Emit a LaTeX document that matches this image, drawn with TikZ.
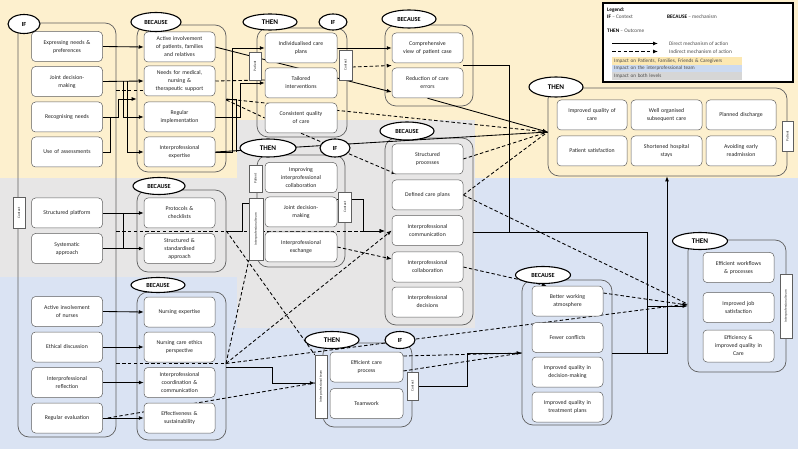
\documentclass[tikz,border=0pt]{standalone}
\usepackage{fontspec}
\setmainfont{Carlito}
\usepackage{graphicx}
\usetikzlibrary{shapes.geometric,arrows.meta,calc}
\definecolor{bgY}{RGB}{253,240,206}
\definecolor{bgG}{RGB}{231,230,230}
\definecolor{bgB}{RGB}{218,227,243}
\definecolor{legY}{RGB}{252,232,178}
\definecolor{legB}{RGB}{204,218,240}
\definecolor{legG}{RGB}{214,214,214}
\definecolor{frm}{RGB}{95,95,95}
\definecolor{txt}{RGB}{35,35,35}
\pgfdeclarelayer{bglayer}
\pgfdeclarelayer{framelayer}
\pgfdeclarelayer{linelayer}
\pgfsetlayers{bglayer,framelayer,linelayer,main}
\tikzset{
  cbox/.style={draw=frm, line width=0.5pt, fill=white, rounded corners=4pt, align=center,
    font=\fontsize{5.8}{8}\selectfont, text=txt, minimum width=71pt, minimum height=30pt,
    inner sep=1pt, text width=68pt},
  cframe/.style={draw=frm, line width=0.7pt, rounded corners=11pt, inner sep=0pt},
  elab/.style={ellipse, draw=black, line width=1.1pt, fill=white, inner sep=0pt,
    font=\bfseries\fontsize{6.2}{7}\selectfont},
  tlab/.style={elab, font=\bfseries\fontsize{7.2}{8}\selectfont},
  vtag/.style={draw=frm, line width=0.4pt, fill=white, inner sep=0pt,
    font=\fontsize{3.5}{4}\selectfont, text=txt},
  ln/.style={draw=black, line width=0.85pt},
  arr/.style={ln, -{Latex[length=5pt,width=4pt]}},
  dsh/.style={ln, dash pattern=on 3.5pt off 2.3pt},
  dar/.style={dsh, -{Latex[length=5pt,width=4pt]}},
  legt/.style={anchor=west, inner sep=0pt, font=\fontsize{5.3}{6}\selectfont, text=black!70},
  legbar/.style={anchor=west, inner sep=0pt, inner xsep=2pt, minimum width=130pt, minimum height=7.5pt,
    text width=126pt, align=left, font=\fontsize{5.2}{6}\selectfont, text=black!70},
}
\begin{document}
\begin{tikzpicture}[x=1pt,y=-1pt]
\useasboundingbox (0,0) rectangle (798,449);
% ---------------- background bands
\begin{pgfonlayer}{bglayer}
\fill[bgY] (0,0) rectangle (798,178);
\fill[bgG] (0,178) rectangle (237,277);
\fill[bgG] (237,120) rectangle (475,328);
\fill[bgB] (0,277) rectangle (237,449);
\fill[bgB] (237,328) rectangle (475,449);
\fill[bgB] (475,178) rectangle (798,449);
\end{pgfonlayer}
% ---------------- frames
\begin{pgfonlayer}{framelayer}
\node[cframe, minimum width=98pt, minimum height=414pt] (fIF) at (67,230) {};
\node[cframe, minimum width=89pt, minimum height=147pt] (fb1) at (181.5,98.5) {};
\node[cframe, minimum width=89pt, minimum height=82pt] (fb2) at (181.5,231) {};
\node[cframe, minimum width=89pt, minimum height=148pt] (fb3) at (181.5,366) {};
\node[cframe, minimum width=90pt, minimum height=109pt] (ft1) at (302,82.5) {};
\node[cframe, minimum width=88pt, minimum height=81pt] (fc) at (429,65.5) {};
\node[cframe, minimum width=239pt, minimum height=88pt] (fP) at (667.5,132) {};
\node[cframe, minimum width=88pt, minimum height=112pt] (fm) at (301,211) {};
\node[cframe, minimum width=88pt, minimum height=187pt] (fk) at (429,231.5) {};
\node[cframe, minimum width=89pt, minimum height=84pt] (fn) at (367.5,385) {};
\node[cframe, minimum width=90pt, minimum height=145pt] (fr) at (567,352.5) {};
\node[cframe, minimum width=98pt, minimum height=132pt] (fT) at (737,306) {};
\end{pgfonlayer}
% ---------------- boxes
\node[cbox] (e1) at (67,46.5) {Expressing needs \&\\preferences};
\node[cbox] (e2) at (67,81.5) {Joint decision-\\making};
\node[cbox] (e3) at (67,117) {Recognising needs};
\node[cbox] (e4) at (67,152) {Use of assessments};
\node[cbox] (e5) at (67,213) {Structured platform};
\node[cbox] (e6) at (67,248.5) {Systematic\\approach};
\node[cbox] (e7) at (67,311.5) {Active involvement\\of nurses};
\node[cbox] (e8) at (67,347) {Ethical discussion};
\node[cbox] (e9) at (67,382.5) {Interprofessional\\reflection};
\node[cbox] (e10) at (67,418) {Regular evaluation};

\node[cbox] (b1) at (179.5,47) {Active involvement\\of patients, families\\and relatives};
\node[cbox] (b2) at (179.5,81) {Needs for medical,\\nursing \&\\therapeutic support};
\node[cbox] (b3) at (179.5,117) {Regular\\implementation};
\node[cbox] (b4) at (179.5,152) {Interprofessional\\expertise};
\node[cbox] (b5) at (179.5,213) {Protocols \&\\checklists};
\node[cbox] (b6) at (179.5,248.5) {Structured \&\\standardised\\approach};
\node[cbox] (b7) at (179.5,312) {Nursing expertise};
\node[cbox] (b8) at (179.5,347) {Nursing care ethics\\perspective};
\node[cbox] (b9) at (179.5,382.5) {Interprofessional\\coordination \&\\communication};
\node[cbox] (b10) at (179.5,418) {Effectiveness \&\\sustainability};

\node[cbox, minimum width=72pt] (t1) at (301,48) {Individualised care\\plans};
\node[cbox, minimum width=72pt] (t2) at (301,83) {Tailored\\interventions};
\node[cbox, minimum width=72pt] (t3) at (301,118) {Consistent quality\\of care};

\node[cbox] (c1) at (427.5,48) {Comprehensive\\view of patient case};
\node[cbox] (c2) at (427.5,83) {Reduction of care\\errors};

\node[cbox, minimum width=70pt] (p1) at (592,115) {Improved quality of\\care};
\node[cbox, minimum width=71pt] (p2) at (666.5,115) {Well organised\\subsequent care};
\node[cbox, minimum width=70pt] (p3) at (741,115) {Planned discharge};
\node[cbox, minimum width=70pt] (p4) at (592,151) {Patient satisfaction};
\node[cbox, minimum width=71pt] (p5) at (666.5,151) {Shortened hospital\\stays};
\node[cbox, minimum width=70pt] (p6) at (741,151) {Avoiding early\\readmission};

\node[cbox, minimum width=72pt] (m1) at (301,177.5) {Improving\\interprofessional\\collaboration};
\node[cbox, minimum width=72pt] (m2) at (301,212) {Joint decision-\\making};
\node[cbox, minimum width=72pt] (m3) at (301,247) {Interprofessional\\exchange};

\node[cbox] (k1) at (427.5,159) {Structured\\processes};
\node[cbox] (k2) at (427.5,195) {Defined care plans};
\node[cbox] (k3) at (427.5,230.5) {Interprofessional\\communication};
\node[cbox] (k4) at (427.5,267) {Interprofessional\\collaboration};
\node[cbox] (k5) at (427.5,302) {Interprofessional\\decisions};

\node[cbox, minimum width=73pt] (n1) at (366.5,367) {Efficient care\\process};
\node[cbox, minimum width=73pt] (n2) at (366.5,403.5) {Teamwork};

\node[cbox] (r1) at (567.5,301) {Better working\\atmosphere};
\node[cbox] (r2) at (567.5,337.5) {Fewer conflicts};
\node[cbox] (r3) at (567.5,372) {Improved quality in\\decision-making};
\node[cbox] (r4) at (567.5,407) {Improved quality in\\treatment plans};

\node[cbox] (s1) at (738.5,267.5) {Efficient workflows\\\& processes};
\node[cbox] (s2) at (738.5,307.5) {Improved job\\satisfaction};
\node[cbox, minimum height=32pt] (s3) at (738.5,346) {Efficiency \&\\improved quality in\\Care};

% ---------------- vertical tags
\node[vtag, minimum width=12pt, minimum height=31pt] (vIF) at (19,213) {\rotatebox{90}{Context}};
\node[vtag, minimum width=12pt, minimum height=28pt] (vt1P) at (255,66) {\rotatebox{90}{Patient}};
\node[vtag, minimum width=13pt, minimum height=30pt] (vt1C) at (345.5,65) {\rotatebox{90}{Context}};
\node[vtag, minimum width=11pt, minimum height=30pt] (vP) at (787.5,136) {\rotatebox{90}{Patient}};
\node[vtag, minimum width=13pt, minimum height=27pt] (vmP) at (255.5,178.5) {\rotatebox{90}{Patient}};
\node[vtag, minimum width=14pt, minimum height=62pt] (vmIT) at (256,229) {\rotatebox{90}{Interprofessional team}};
\node[vtag, minimum width=13pt, minimum height=30pt] (vmC) at (345,207) {\rotatebox{90}{Context}};
\node[vtag, minimum width=12pt, minimum height=63pt] (vnIT) at (321,386.5) {\rotatebox{90}{Interprofessional team}};
\node[vtag, minimum width=11pt, minimum height=28pt] (vnC) at (412.5,386) {\rotatebox{90}{Context}};
\node[vtag, minimum width=12pt, minimum height=64pt] (vT) at (786,306) {\rotatebox{90}{Interprofessional team}};

% ---------------- connectors
\begin{pgfonlayer}{linelayer}
% IF -> BECAUSE (top)
\draw[arr] (e1.east) -- (b1.west);
\draw[arr] (e2.east) -- (b2.west);
\coordinate (j1) at (123,81.5);
\coordinate (j2) at (127,81.5);
\draw[arr] (j1) |- (b3.west);
\draw[arr] (j2) |- (b4.west);
\coordinate (j3) at (118,99);
\draw[arr] (e3.east) -| (j3) -- (fb1.west |- j3);
\coordinate (j4) at (110,117);
\draw[ln] (e4.east) -| (j4);
\draw[dsh] (fIF.east |- 0,90) -- (b2.west |- 0,90);
% IF -> BECAUSE (middle)
\draw[arr] (e5.east) -- (b5.west);
\draw[arr] (e6.east) -- (b6.west);
\coordinate (j5) at (123,213);
\coordinate (j6) at (123,248.5);
\draw[ln] (j5) -- (j6);
\draw[dar] (fIF.east |- 0,231) -- (fk.west |- 0,231);
\coordinate (j7) at (242,203);
\draw[ln] (fb2.east |- 0,231) -| (j7) -- (vmIT.west |- j7);
\coordinate (j8a) at (363,199);
\coordinate (j8b) at (363,231);
\draw[arr] (m2.east |- j8a) -- (j8a) -- (j8b) -- (fk.west |- j8b);
% BECAUSE (top) -> THEN
\draw[arr] (b1.east) -- ([yshift=-9pt]c2.west);
\draw[arr] (t1.east) -- (c1.west);
\draw[dar] (vt1C.east |- 0,67) -- (c1.west |- 0,65.5);
\draw[dsh] (b2.east) -- ([yshift=3pt]t2.west);
\coordinate (j9) at (240,83);
\draw[arr] (b3.east) -| (j9) -- (t2.west);
\coordinate (j10) at (232,48);
\draw[arr] (b4.east) -| (j10) -- (t1.west);
\coordinate (j11) at (236,99);
\coordinate (j11b) at (236,152);
\draw[ln] (fb1.east |- j11) -- (j11) -- (j11b);
\draw[dsh] (fb1.east |- 0,100) -- (t3.west);
\draw[dsh] (fb1.east |- 0,99) -- (fP.west);
\draw[arr] (b4.east) -- (fP.west);
\draw[arr] (c2.south) -- (fP.west);
\draw[dar] (t3.south) -- ([xshift=5pt]k1.south west);
\draw[dsh] (k1.east) -- (fP.west);
\draw[dsh] (k2.east) -- (fP.west);
% right side solid route
\coordinate (j12) at (509,65.5);
\coordinate (j13) at (509,232);
\coordinate (j14) at (647,232);
\coordinate (j15) at (647,306);
\coordinate (j16) at (647,353);
\coordinate (j17) at (667,353);
\draw[ln] (c1.east |- j12) -- (j12) -- (j13) -- (fk.east |- j13);
\draw[arr] (fk.east |- j14) -- (j14) -- (j15) -- (fT.west |- j15);
\draw[ln] (j15) -- (j16);
\draw[arr] (fr.east |- j17) -- (j17) -- (j17 |- fP.south);
% IF -> BECAUSE (bottom)
\draw[arr] (e7.east) -- (b7.west);
\draw[arr] (e8.east) -- (b8.west);
\draw[arr] (e9.east) -- (b9.west);
\draw[arr] (e10.east) -- (b10.west);
\coordinate (q3) at (226,363.5);
\draw[dsh] (fIF.east |- q3) -- (q3);
\draw[dar] (q3) -- (fT.west |- 0,304);
\draw[dsh] ([xshift=5pt]e10.east) -- (vnIT.west |- 0,383);
\coordinate (j18) at (272,383);
\draw[arr] (fb3.east |- 0,367) -| (j18) -- (vnIT.west |- j18);
\draw[dsh] (fb2.east) -- (vnIT.north west);
\draw[dsh] (q3) -- (vmIT.south west);
\draw[dar] (q3) -- (k3.west);
\draw[dar] (m3.east) -- ([yshift=8pt]k4.west);
\draw[dar] (k4.east) -- ([xshift=15pt]r1.north west);
\draw[dsh] (k2.east) -- (fT.west |- 0,304);
\draw[dsh] ([yshift=8pt]r1.east) -- (fT.west |- 0,305);
\coordinate (j19) at (467,353);
\draw[arr] (vnC.east) -| (j19) -- (fr.west |- j19);
\draw[dsh] (n1.east |- 0,356) -- (fr.west |- j19);
\draw[dsh] ([yshift=-4pt]n1.east) -- (fr.west |- j19);
\end{pgfonlayer}

% ---------------- ellipse labels
\node[elab, minimum width=32pt, minimum height=19pt] (eIF) at (24,24) {IF};
\node[elab, minimum width=50pt, minimum height=19pt] (eB1) at (156,22) {BECAUSE};
\node[tlab, minimum width=54pt, minimum height=16pt] (eT1) at (270,22) {THEN};
\node[elab, minimum width=28pt, minimum height=16pt] (eI1) at (333,22) {IF};
\node[elab, minimum width=54pt, minimum height=18pt] (eB2) at (409,19) {BECAUSE};
\node[tlab, minimum width=54pt, minimum height=20pt] (eT2) at (556,87) {THEN};
\node[elab, minimum width=52pt, minimum height=17pt] (eB3) at (159,186) {BECAUSE};
\node[tlab, minimum width=56pt, minimum height=18pt] (eT3) at (268,148) {THEN};
\node[elab, minimum width=30pt, minimum height=18pt] (eI3) at (335,148) {IF};
\node[elab, minimum width=54pt, minimum height=18pt] (eB4) at (407,131) {BECAUSE};
\node[elab, minimum width=54pt, minimum height=15pt] (eB5) at (158,285) {BECAUSE};
\node[tlab, minimum width=54pt, minimum height=17pt] (eT4) at (332,340) {THEN};
\node[elab, minimum width=30pt, minimum height=17pt] (eI4) at (400,340) {IF};
\node[elab, minimum width=55pt, minimum height=17pt] (eB6) at (543,275) {BECAUSE};
\node[tlab, minimum width=55pt, minimum height=17pt] (eT5) at (700,241) {THEN};

% ---------------- legend
\node[draw=black, line width=1.3pt, fill=white, minimum width=190pt, minimum height=79pt, inner sep=0pt] (leg) at (698,42.5) {};
\node[legt, text=black] (lg1) at (607,10.5) {\textbf{Legend:}};
\node[legt] (lg2) at (607,16.5) {\textbf{\color{black}IF} \textendash{} Context};
\node[legt] (lg3) at (667,16.5) {\textbf{\color{black}BECAUSE} \textendash{} mechanism};
\node[legt] (lg4) at (607,31) {\textbf{\color{black}THEN} \textendash{} Outcome};
\coordinate (la1) at (612,43.5);
\coordinate (la2) at (658,43.5);
\draw[arr] (la1) -- (la2);
\node[legt] (lg5) at (669,44) {Direct mechanism of action};
\coordinate (la3) at (612,51.5);
\coordinate (la4) at (658,51.5);
\draw[dar] (la3) -- (la4);
\node[legt] (lg6) at (669,51.5) {Indirect mechanism of action};
\node[legbar, fill=legY] (lb1) at (612,61) {Impact on Patients, Families, Friends \& Caregivers};
\node[legbar, fill=legB] (lb2) at (612,68.5) {Impact on the interprofessional team};
\node[legbar, fill=legG] (lb3) at (612,76) {Impact on both levels};
\end{tikzpicture}
\end{document}
